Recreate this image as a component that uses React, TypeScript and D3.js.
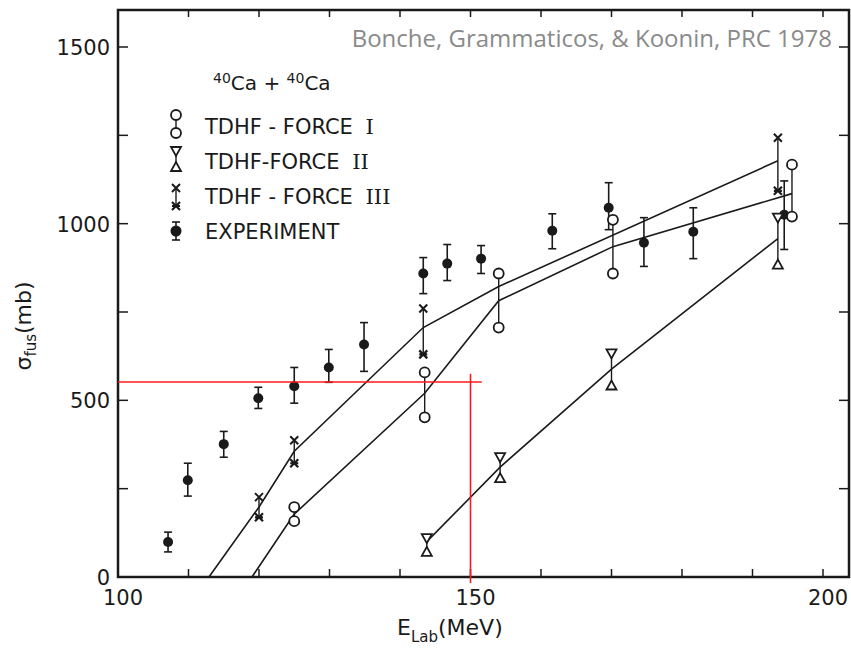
import * as d3 from "d3";

// experiment: lab energy (MeV), cross section (mb) with error bar ends
const expEnergy = [107.1, 109.9, 115.0, 119.9, 125.0, 129.9, 134.9, 143.3, 146.7, 151.5, 161.6, 169.6, 174.6, 181.6, 194.5];
const expSigma = [99, 274, 376, 506, 540, 593, 658, 859, 887, 901, 980, 1045, 946, 977, 1025];
const expHigh = [127, 322, 412, 537, 593, 644, 720, 904, 941, 938, 1028, 1116, 1017, 1045, 1121];
const expLow = [71, 229, 339, 477, 492, 551, 582, 802, 839, 859, 929, 983, 879, 901, 927];

// TDHF force I (circles)
const f1Energy = [125.0, 143.5, 154.0, 170.2, 195.6];
const f1High = [198, 579, 859, 1011, 1167];
const f1Low = [158, 452, 706, 859, 1020];
const f1LineE = [119.0, 125.0, 143.5, 154.0, 170.2, 195.6];
const f1LineS = [0, 178, 520, 782, 935, 1085];

// TDHF force II (triangles)
const f2Energy = [143.8, 154.2, 170.0, 193.6];
const f2High = [110, 339, 633, 1017];
const f2Low = [71, 280, 542, 884];
const f2LineE = [143.8, 154.2, 170.0, 193.6];
const f2LineS = [100, 311, 588, 958];

// TDHF force III (crosses)
const f3Energy = [120.0, 125.0, 143.3, 193.6];
const f3High = [226, 387, 760, 1243];
const f3Low = [169, 322, 630, 1093];
const f3LineE = [112.9, 120.0, 125.0, 143.3, 154.0, 193.6];
const f3LineS = [0, 198, 356, 706, 822, 1178];

const xTicks = [100, 110, 120, 130, 140, 150, 160, 170, 180, 190, 200];
const xLabels = [100, 150, 200];
const yTicks = [250, 500, 750, 1000, 1250, 1500];
const yLabels = [0, 500, 1000, 1500];

// red guide lines drawn over the scan
const guideSigma = 552;
const guideEnergy = 150;

const legendRows = [
  { sym: "f1", text: "TDHF - FORCE ", num: "I" },
  { sym: "f2", text: "TDHF-FORCE ", num: "II" },
  { sym: "f3", text: "TDHF - FORCE ", num: "III" },
  { sym: "exp", text: "EXPERIMENT", num: "" },
];

const ink = "#1a1a1a";
const font = "DejaVu Sans, sans-serif";

function Circle({ cx, cy }: { cx: number; cy: number }) {
  return <circle cx={cx} cy={cy} r={5} fill="white" stroke={ink} strokeWidth={1.8} />;
}

function TriDown({ cx, cy }: { cx: number; cy: number }) {
  return <path d={`M${cx - 5},${cy - 4}L${cx + 5},${cy - 4}L${cx},${cy + 5}Z`} fill="white" stroke={ink} strokeWidth={1.8} />;
}

function TriUp({ cx, cy }: { cx: number; cy: number }) {
  return <path d={`M${cx - 5},${cy + 4}L${cx + 5},${cy + 4}L${cx},${cy - 5}Z`} fill="white" stroke={ink} strokeWidth={1.8} />;
}

function Cross({ cx, cy }: { cx: number; cy: number }) {
  return <path d={`M${cx - 4},${cy - 4}L${cx + 4},${cy + 4}M${cx + 4},${cy - 4}L${cx - 4},${cy + 4}`} stroke={ink} strokeWidth={2} />;
}

function Star({ cx, cy }: { cx: number; cy: number }) {
  return <path d={`M${cx - 4},${cy - 4}L${cx + 4},${cy + 4}M${cx + 4},${cy - 4}L${cx - 4},${cy + 4}M${cx - 4},${cy}L${cx + 4},${cy}`} stroke={ink} strokeWidth={2.2} />;
}

export default function App() {
  const W = 851, H = 648;
  const x = d3.scaleLinear().domain([100, 200]).range([118, 823]);
  const y = d3.scaleLinear().domain([0, 1500]).range([577, 47]);
  const left = 118, right = 849, top = 10, bottom = 577;

  const line = d3.line<[number, number]>().x((d) => x(d[0])).y((d) => y(d[1]));
  const f1Path = line(f1LineE.map((e, i) => [e, f1LineS[i]]));
  const f2Path = line(f2LineE.map((e, i) => [e, f2LineS[i]]));
  const f3Path = line(f3LineE.map((e, i) => [e, f3LineS[i]]));

  return (
    <svg width={W} height={H} style={{ position: "absolute", left: 0, top: 0, background: "white" }}>
      {/* frame */}
      <rect x={left} y={top} width={right - left} height={bottom - top} fill="none" stroke={ink} strokeWidth={2.5} />
      {xTicks.map((t) => (
        <g key={t}>
          <line x1={x(t)} x2={x(t)} y1={bottom} y2={bottom - 8} stroke={ink} strokeWidth={1.5} />
          <line x1={x(t)} x2={x(t)} y1={top} y2={top + 7} stroke={ink} strokeWidth={1.5} />
        </g>
      ))}
      {yTicks.map((t) => (
        <g key={t}>
          <line x1={left} x2={left + 10} y1={y(t)} y2={y(t)} stroke={ink} strokeWidth={1.5} />
          <line x1={right} x2={right - 10} y1={y(t)} y2={y(t)} stroke={ink} strokeWidth={1.5} />
        </g>
      ))}
      {xLabels.map((t) => (
        <text key={t} x={x(t) + 5} y={605} textAnchor="middle" fontFamily={font} fontSize={21} fill={ink}>{t}</text>
      ))}
      {yLabels.map((t) => (
        <text key={t} x={110} y={y(t) + 8} textAnchor="end" fontFamily={font} fontSize={21} fill={ink}>{t}</text>
      ))}

      {/* axis titles */}
      <text x={397} y={635} fontFamily={font} fontSize={22} fill={ink}>
        E<tspan fontSize={15} dy={7}>Lab</tspan><tspan dy={-7}>(MeV)</tspan>
      </text>
      <text transform="translate(31,326) rotate(-90)" textAnchor="middle" fontFamily={font} fontSize={22} fill={ink}>
        σ<tspan fontSize={15} dy={5}>fus</tspan><tspan dy={-5}>(mb)</tspan>
      </text>

      {/* curves */}
      <path d={f1Path ?? ""} fill="none" stroke={ink} strokeWidth={1.6} />
      <path d={f2Path ?? ""} fill="none" stroke={ink} strokeWidth={1.6} />
      <path d={f3Path ?? ""} fill="none" stroke={ink} strokeWidth={1.6} />

      {/* experiment */}
      {expEnergy.map((e, i) => (
        <g key={"e" + i}>
          <line x1={x(e)} x2={x(e)} y1={y(expHigh[i])} y2={y(expLow[i])} stroke={ink} strokeWidth={1.6} />
          <line x1={x(e) - 4} x2={x(e) + 4} y1={y(expHigh[i])} y2={y(expHigh[i])} stroke={ink} strokeWidth={1.6} />
          <line x1={x(e) - 4} x2={x(e) + 4} y1={y(expLow[i])} y2={y(expLow[i])} stroke={ink} strokeWidth={1.6} />
          <circle cx={x(e)} cy={y(expSigma[i])} r={5} fill={ink} />
        </g>
      ))}

      {/* force I */}
      {f1Energy.map((e, i) => (
        <g key={"a" + i}>
          <line x1={x(e)} x2={x(e)} y1={y(f1High[i])} y2={y(f1Low[i])} stroke={ink} strokeWidth={1.4} />
          <Circle cx={x(e)} cy={y(f1High[i])} />
          <Circle cx={x(e)} cy={y(f1Low[i])} />
        </g>
      ))}
      {/* force II */}
      {f2Energy.map((e, i) => (
        <g key={"b" + i}>
          <line x1={x(e)} x2={x(e)} y1={y(f2High[i])} y2={y(f2Low[i])} stroke={ink} strokeWidth={1.4} />
          <TriDown cx={x(e)} cy={y(f2High[i])} />
          <TriUp cx={x(e)} cy={y(f2Low[i])} />
        </g>
      ))}
      {/* force III */}
      {f3Energy.map((e, i) => (
        <g key={"c" + i}>
          <line x1={x(e)} x2={x(e)} y1={y(f3High[i])} y2={y(f3Low[i])} stroke={ink} strokeWidth={1.4} />
          <Cross cx={x(e)} cy={y(f3High[i])} />
          <Star cx={x(e)} cy={y(f3Low[i])} />
        </g>
      ))}

      {/* legend */}
      <text x={213} y={90} fontFamily={font} fontSize={20} fill={ink}>
        <tspan fontSize={14} dy={-7}>40</tspan><tspan dy={7}>Ca</tspan> + <tspan fontSize={14} dy={-7}>40</tspan><tspan dy={7}>Ca</tspan>
      </text>
      {legendRows.map((r, i) => {
        const cy = 126 + i * 35;
        const sx = 176;
        return (
          <g key={r.sym}>
            {r.sym === "f1" && (
              <g>
                <line x1={sx} x2={sx} y1={cy - 11} y2={cy + 7} stroke={ink} strokeWidth={1.4} />
                <Circle cx={sx} cy={cy - 11} />
                <Circle cx={sx} cy={cy + 7} />
              </g>
            )}
            {r.sym === "f2" && (
              <g>
                <line x1={sx} x2={sx} y1={cy - 10} y2={cy + 6} stroke={ink} strokeWidth={1.4} />
                <TriDown cx={sx} cy={cy - 10} />
                <TriUp cx={sx} cy={cy + 6} />
              </g>
            )}
            {r.sym === "f3" && (
              <g>
                <line x1={sx} x2={sx} y1={cy - 8} y2={cy + 10} stroke={ink} strokeWidth={1.4} />
                <Cross cx={sx} cy={cy - 8} />
                <Star cx={sx} cy={cy + 10} />
              </g>
            )}
            {r.sym === "exp" && (
              <g>
                <line x1={sx} x2={sx} y1={cy - 9} y2={cy + 9} stroke={ink} strokeWidth={1.6} />
                <line x1={sx - 4} x2={sx + 4} y1={cy - 9} y2={cy - 9} stroke={ink} strokeWidth={1.6} />
                <line x1={sx - 4} x2={sx + 4} y1={cy + 9} y2={cy + 9} stroke={ink} strokeWidth={1.6} />
                <circle cx={sx} cy={cy} r={5.5} fill={ink} />
              </g>
            )}
            <text x={205} y={cy + 8} fontFamily={font} fontSize={21} fill={ink}>
              {r.text}
              <tspan fontFamily="DejaVu Serif, serif" dx={6}>{r.num}</tspan>
            </text>
          </g>
        );
      })}

      {/* red guides */}
      <line x1={x(100)} x2={x(151.6)} y1={y(guideSigma)} y2={y(guideSigma)} stroke="#ff1a1a" strokeWidth={1.6} />
      <line x1={x(guideEnergy)} x2={x(guideEnergy)} y1={y(575)} y2={y(-17)} stroke="#ff1a1a" strokeWidth={1.6} />

      {/* citation */}
      <text x={832} y={47} textAnchor="end" fontFamily="Open Sans, sans-serif" fontSize={24} fill="#8a8a8a">
        Bonche, Grammaticos, &amp; Koonin, PRC 1978
      </text>
    </svg>
  );
}
